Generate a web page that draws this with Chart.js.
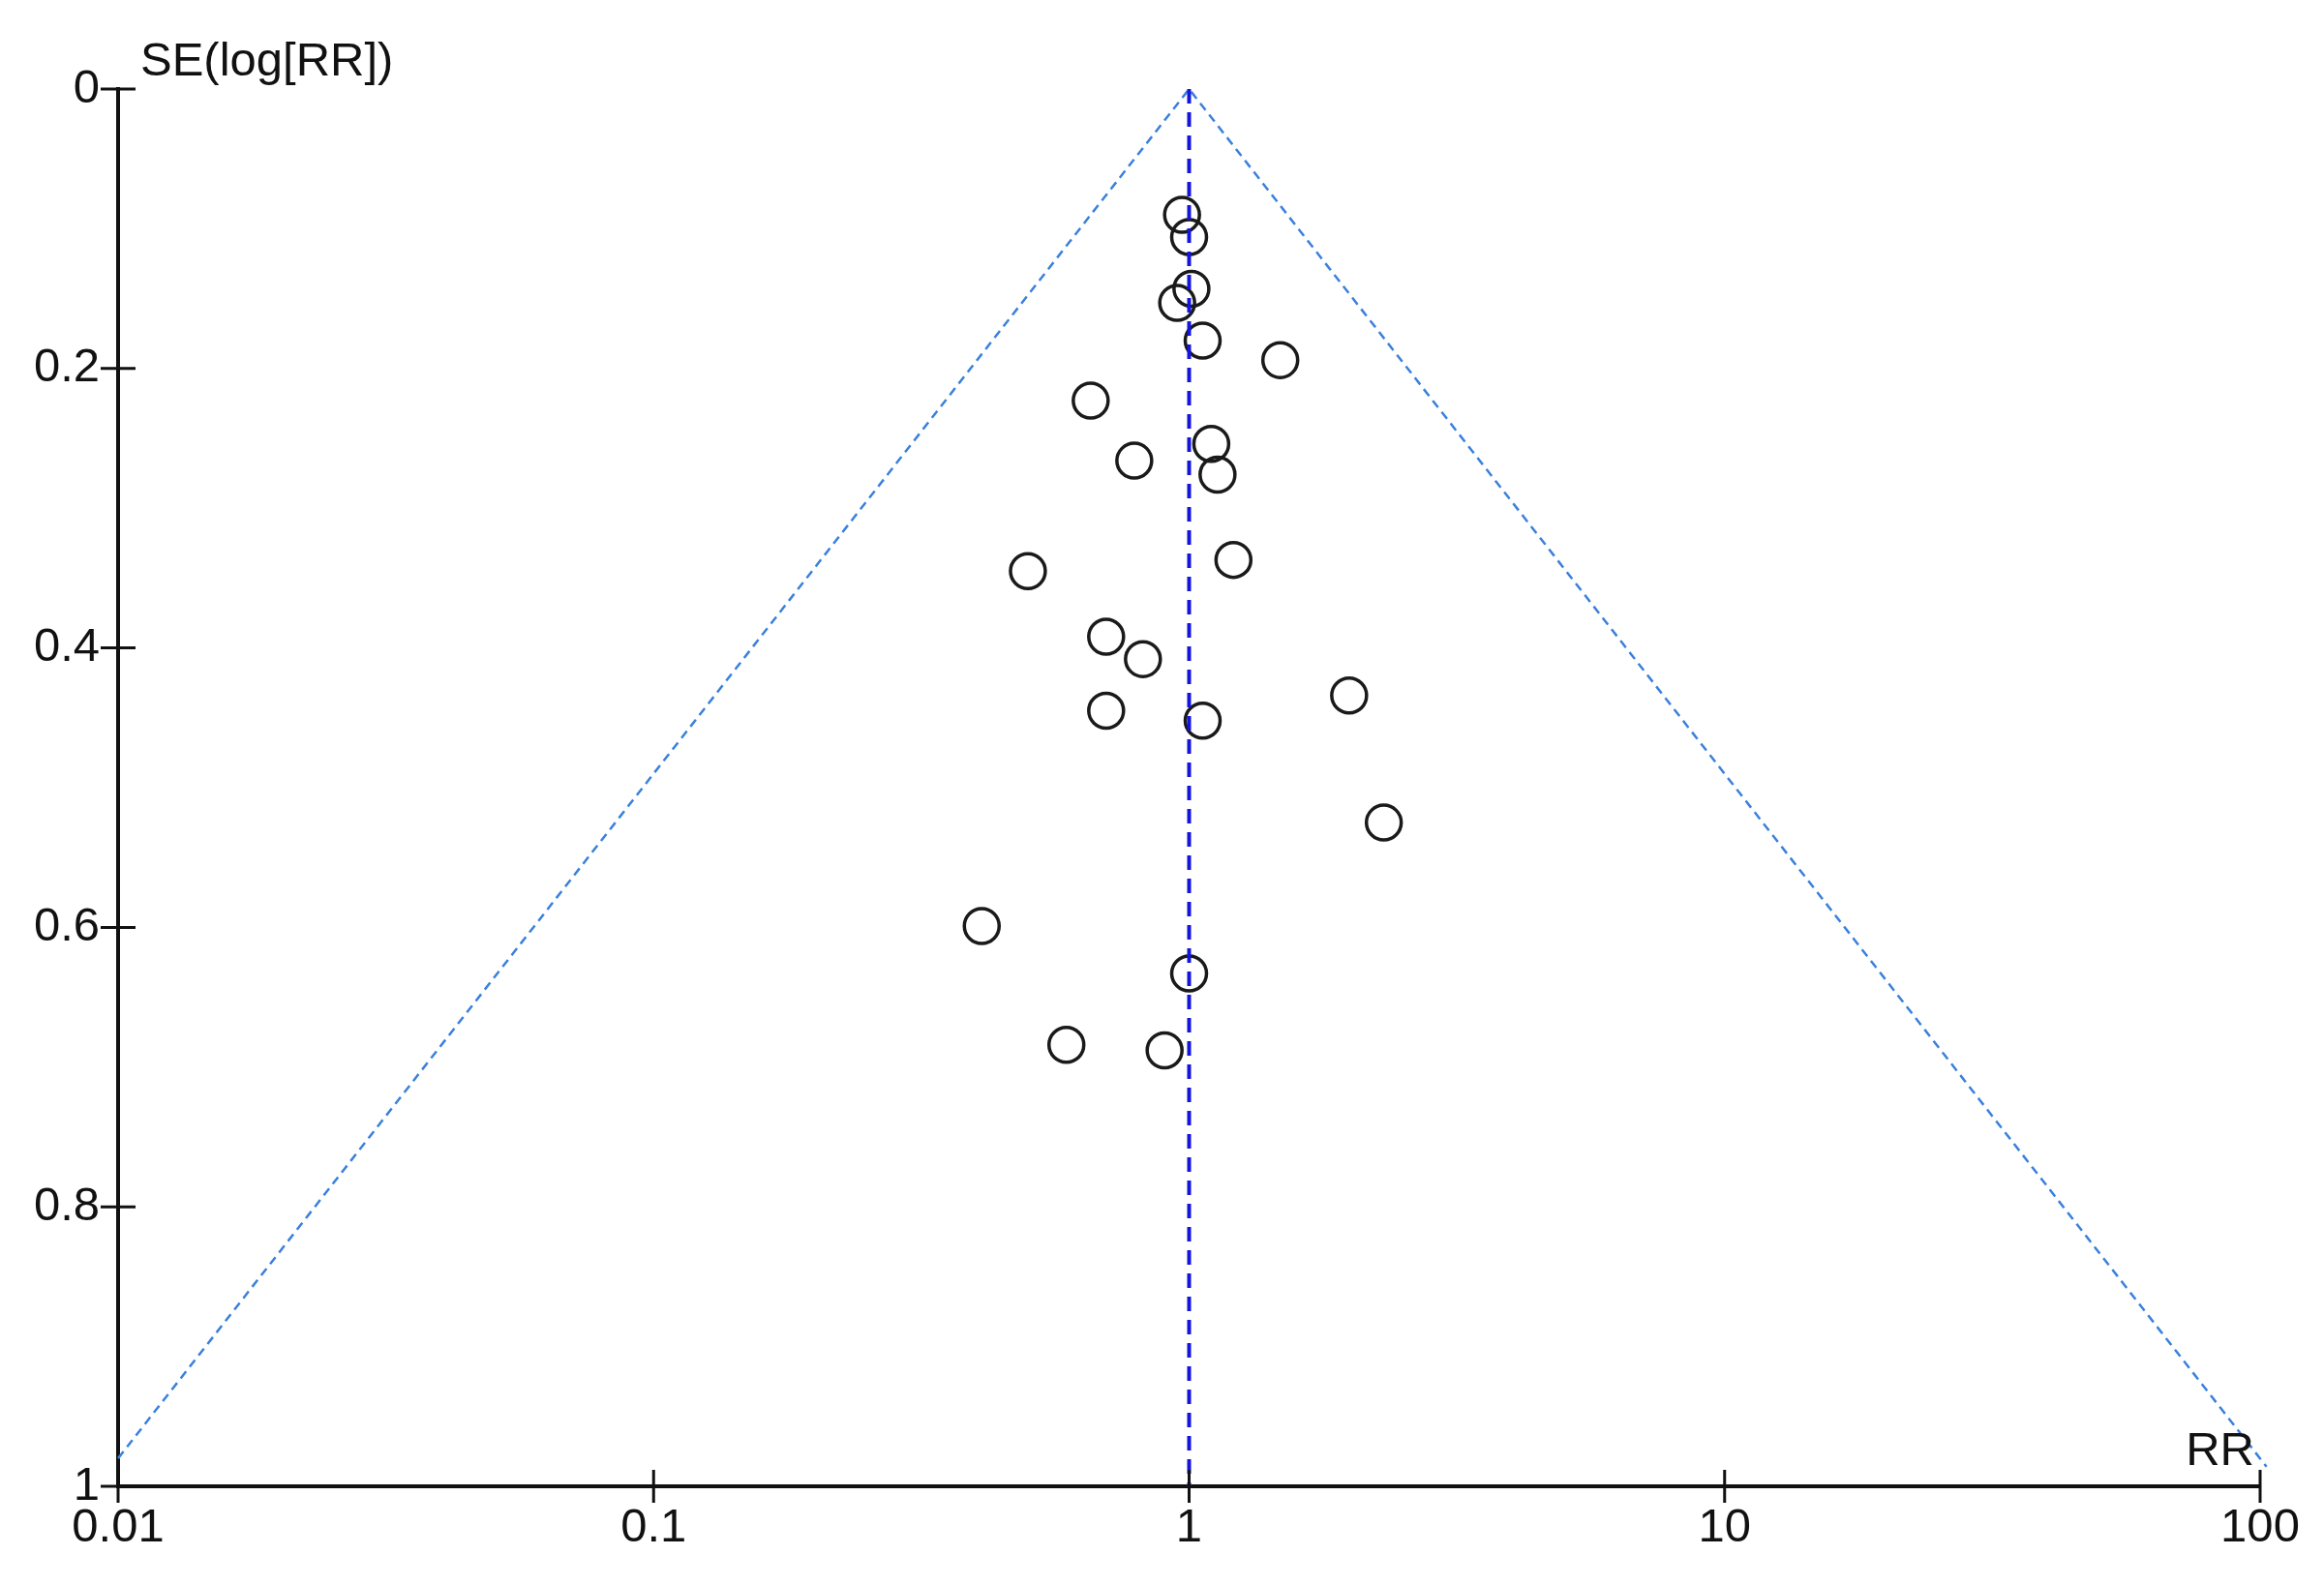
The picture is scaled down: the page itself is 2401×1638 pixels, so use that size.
<!DOCTYPE html>
<html>
<head>
<meta charset="utf-8">
<script src="https://cdn.jsdelivr.net/npm/chart.js@4/dist/chart.umd.min.js"></script>
<style>
  body { margin: 0; background: #fff; }
  #wrap { width: 2401px; height: 1638px; }
</style>
</head>
<body>
<div id="wrap"><canvas id="funnel"></canvas></div>
<script>
// study estimates
const rr = [0.97, 1.00, 1.01, 0.95, 1.06, 1.48, 0.655, 1.10, 0.79, 1.13, 1.21, 0.50,
            0.70, 0.82, 1.99, 0.70, 1.06, 2.31, 0.41, 1.00, 0.59, 0.90];
const se = [0.090, 0.106, 0.143, 0.153, 0.180, 0.194, 0.223, 0.254, 0.266, 0.276, 0.337, 0.345,
            0.392, 0.408, 0.434, 0.445, 0.452, 0.525, 0.599, 0.633, 0.684, 0.688];

const xTicks = [0.01, 0.1, 1, 10, 100];
const xTickLabels = ['0.01', '0.1', '1', '10', '100'];
const yTicks = [0, 0.2, 0.4, 0.6, 0.8, 1];
const yTickLabels = ['0', '0.2', '0.4', '0.6', '0.8', '1'];

// funnel (pseudo CI) and pooled estimate
const funnelX = [0.01, 1, 102.8];
const funnelY = [0.98, 0, 0.986];
const pooledX = [1, 1];
const pooledY = [0, 1];

const font = { family: 'Liberation Sans', size: 49 };

const crossTicks = {
    id: 'crossTicks',
    afterDraw(chart) {
        const { ctx, scales: { x, y } } = chart;
        ctx.save();
        ctx.strokeStyle = '#111';
        ctx.lineWidth = 3;
        ctx.beginPath();
        x.ticks.forEach(t => {
            const px = x.getPixelForValue(t.value);
            ctx.moveTo(px, y.bottom - 17);
            ctx.lineTo(px, y.bottom + 17);
        });
        y.ticks.forEach(t => {
            const py = y.getPixelForValue(t.value);
            ctx.moveTo(x.left - 18, py);
            ctx.lineTo(x.left + 18, py);
        });
        ctx.stroke();
        ctx.fillStyle = '#111';
        ctx.font = '49px "Liberation Sans"';
        ctx.textBaseline = 'alphabetic';
        ctx.textAlign = 'left';
        ctx.fillText('SE(log[RR])', x.left + 23, y.top - 14);
        ctx.textAlign = 'right';
        ctx.fillText('RR', x.right - 6, y.bottom - 22);
        ctx.restore();
    }
};

new Chart(document.getElementById('funnel'), {
    type: 'scatter',
    data: {
        datasets: [
            {
                label: 'pooled',
                type: 'line',
                data: pooledX.map((v, i) => ({ x: v, y: pooledY[i] })),
                borderColor: '#1414dc',
                borderWidth: 4,
                borderDash: [15, 9],
                pointRadius: 0,
                order: 0
            },
            {
                label: 'funnel',
                type: 'line',
                data: funnelX.map((v, i) => ({ x: v, y: funnelY[i] })),
                borderColor: '#3a80dc',
                borderWidth: 2.5,
                borderDash: [9, 6],
                pointRadius: 0,
                clip: false,
                order: 0
            },
            {
                label: 'studies',
                data: rr.map((v, i) => ({ x: v, y: se[i] })),
                backgroundColor: 'rgba(0,0,0,0)',
                borderColor: '#1a1a1a',
                borderWidth: 3.5,
                pointRadius: 18,
                order: 1
            }
        ]
    },
    options: {
        responsive: true,
        maintainAspectRatio: false,
        animation: false,
        layout: { padding: { top: 92, right: 66, left: 0, bottom: 0 } },
        plugins: {
            legend: { display: false },
            tooltip: { enabled: false }
        },
        scales: {
            x: {
                type: 'logarithmic',
                min: 0.01,
                max: 100,
                afterBuildTicks: s => { s.ticks = xTicks.map(v => ({ value: v })); },
                afterFit: s => { s.height = 102; },
                grid: { display: false, drawTicks: false },
                border: { display: true, color: '#111', width: 4 },
                ticks: {
                    autoSkip: false,
                    maxRotation: 0,
                    padding: 14,
                    color: '#111',
                    font: font,
                    callback: (v) => xTickLabels[xTicks.indexOf(v)]
                }
            },
            y: {
                type: 'linear',
                reverse: true,
                min: 0,
                max: 1,
                afterBuildTicks: s => { s.ticks = yTicks.map(v => ({ value: v })); },
                afterFit: s => { s.width = 122; },
                grid: { display: false, drawTicks: false },
                border: { display: true, color: '#111', width: 4 },
                ticks: {
                    padding: 19,
                    color: '#111',
                    font: font,
                    callback: (v) => yTickLabels[yTicks.indexOf(v)]
                }
            }
        }
    },
    plugins: [crossTicks]
});
</script>
</body>
</html>
